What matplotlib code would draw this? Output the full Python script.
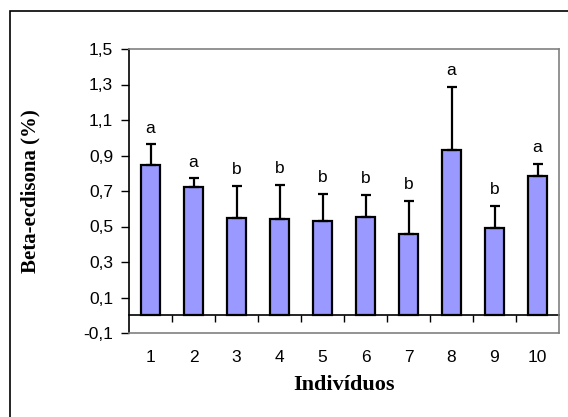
import matplotlib.pyplot as plt
from matplotlib.patches import Rectangle

# data
individuos = ["1", "2", "3", "4", "5", "6", "7", "8", "9", "10"]
beta_ecdisona = [0.846, 0.720, 0.549, 0.545, 0.532, 0.553, 0.455, 0.929, 0.492, 0.786]
erro = [0.116, 0.051, 0.180, 0.190, 0.150, 0.124, 0.188, 0.355, 0.123, 0.067]
letras = ["a", "a", "b", "b", "b", "b", "b", "a", "b", "a"]
y_ticks = [-0.1, 0.1, 0.3, 0.5, 0.7, 0.9, 1.1, 1.3, 1.5]

fig = plt.figure(figsize=(5.68, 4.17), dpi=100)
ax = fig.add_axes([129 / 568, 1 - 333 / 417, 430 / 568, 284 / 417])

# outer frame of the chart area
fig.patches.append(Rectangle((10 / 568, -0.05), 1.2, 1 - 11 / 417 + 0.05,
                             transform=fig.transFigure, fill=False,
                             edgecolor="black", linewidth=1.2))

x = list(range(len(individuos)))
ax.bar(x, beta_ecdisona, width=0.42, color="#9999FF", edgecolor="black",
       linewidth=1.6, zorder=3)
ax.errorbar(x, beta_ecdisona, yerr=[[0] * len(erro), erro], fmt="none",
            ecolor="black", elinewidth=1.6, capsize=3.8, capthick=1.6, zorder=4)

for xi, v, e, l in zip(x, beta_ecdisona, erro, letras):
    ax.text(xi, v + e + 0.05, l, ha="center", va="bottom", fontsize=12.5,
            family="Liberation Sans")

ax.set_xlim(-0.5, len(individuos) - 0.5)
ax.set_ylim(-0.1, 1.5)
ax.set_yticks(y_ticks)
ax.set_yticklabels([f"{t:.1f}".replace(".", ",") for t in y_ticks],
                   family="Liberation Sans", fontsize=12.5)
ax.set_xticks(x)
ax.set_xticklabels(individuos, family="Liberation Sans", fontsize=12.5)
ax.tick_params(axis="x", length=0, pad=12)
ax.tick_params(axis="y", direction="out", length=5.5, width=1, pad=6)

for s in ["top", "right", "bottom"]:
    ax.spines[s].set_color("#808080")
    ax.spines[s].set_linewidth(1.2)
ax.spines["left"].set_color("black")
ax.spines["left"].set_linewidth(1.2)

# category axis crossing at zero with ticks between categories
zero_axis = ax.secondary_xaxis(0.1 / 1.6)
zero_axis.set_xticks([i + 0.5 for i in range(len(individuos) - 1)])
zero_axis.set_xticklabels([])
zero_axis.tick_params(direction="out", length=5, width=1, color="black")
zero_axis.spines["bottom"].set_color("black")
zero_axis.spines["bottom"].set_linewidth(1.2)

ax.set_ylabel("Beta-ecdisona (%)", family="Liberation Serif", fontweight="bold",
              fontsize=15)
ax.set_xlabel("Indivíduos", family="Liberation Serif", fontweight="bold",
              fontsize=16)
ax.yaxis.set_label_coords(-0.23, 0.5)
ax.xaxis.set_label_coords(0.5, -0.183)
ax.xaxis.label.set_va("center")
ax.yaxis.label.set_va("center")

fig.savefig("out.png", dpi=100)
